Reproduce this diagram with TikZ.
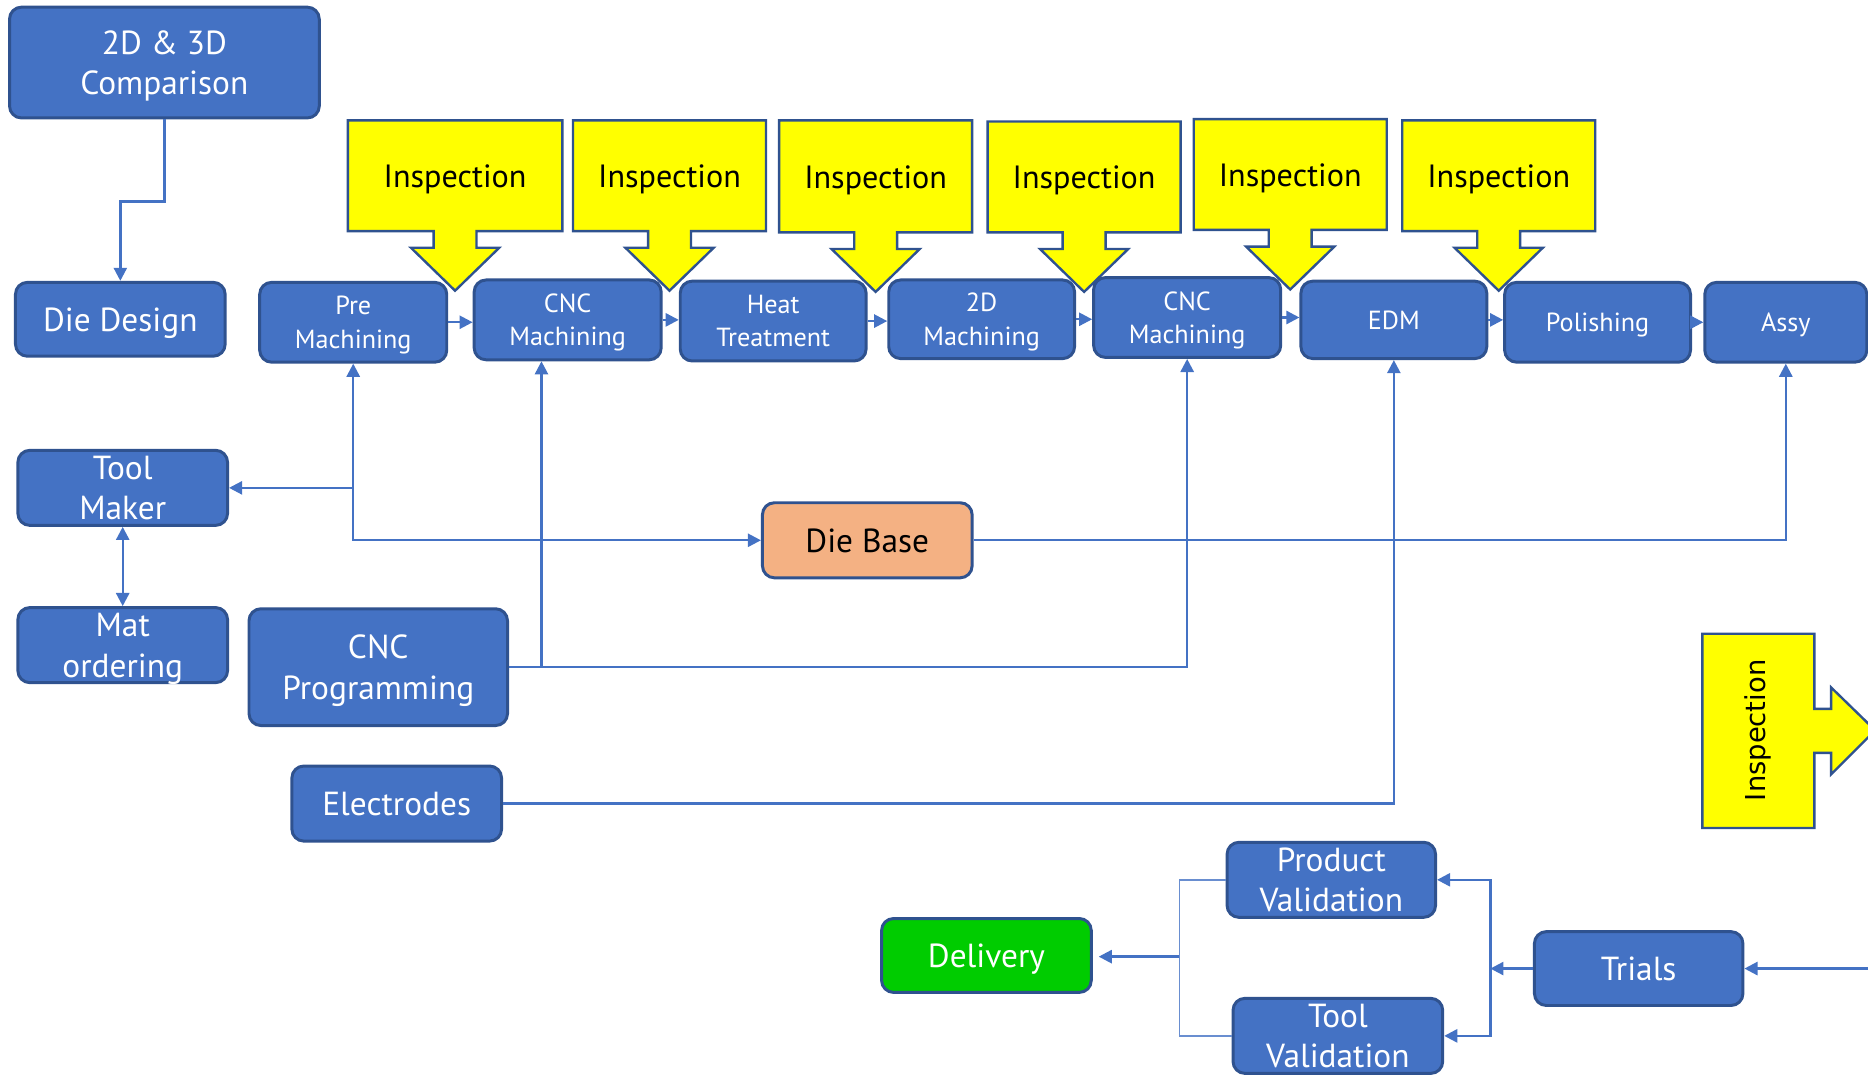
\documentclass[tikz,border=0pt]{standalone}
\usepackage{fontspec}
\setmainfont{PT Sans}
\newfontfamily\sidefont{DejaVu Sans}
\usetikzlibrary{arrows.meta}

\definecolor{boxblue}{HTML}{4472C4}
\definecolor{boxline}{HTML}{2F528F}
\definecolor{inspyellow}{HTML}{FFFF00}
\definecolor{baseorange}{HTML}{F4B183}
\definecolor{okgreen}{HTML}{00CC00}

\tikzset{
  proc/.style={draw=boxline, fill=boxblue, line width=2.5pt, rounded corners=10pt,
    text=white, align=center, inner sep=0pt, text depth=0pt},
  bigtxt/.style={font=\fontsize{28}{34}\selectfont},
  smalltxt/.style={font=\fontsize{22}{28}\selectfont},
  flow/.style={draw=boxblue, line width=2pt, -{Triangle[length=11pt,width=11pt]}},
  thinflow/.style={draw=boxblue!80, line width=1.2pt},
  insp/.style={draw=boxline, fill=inspyellow, line width=2pt},
  insptxt/.style={font=\fontsize{27}{32}\selectfont, text depth=0pt},
}

\begin{document}
\begin{tikzpicture}[x=1pt, y=-1pt]
    \useasboundingbox (0,0) rectangle (1568,903);
    \clip (0,0) rectangle (1568,903);

    % design
    \node[proc, bigtxt, minimum width=260pt, minimum height=93pt] (comp) at (138,52.5) {2D \& 3D\\Comparison};
    \node[proc, bigtxt, minimum width=176pt, minimum height=62pt] (dd) at (101,268) {Die Design};

    % process line
    \node[proc, smalltxt, minimum width=157pt, minimum height=67pt] (pre) at (296.5,270.5) {Pre\\Machining};
    \node[proc, smalltxt, minimum width=157pt, minimum height=67pt] (cnc1) at (476.5,268.5) {CNC\\Machining};
    \node[proc, smalltxt, minimum width=156pt, minimum height=67pt] (heat) at (649,269.5) {Heat\\Treatment};
    \node[proc, smalltxt, minimum width=156pt, minimum height=66pt] (twod) at (824,268) {2D\\Machining};
    \node[proc, smalltxt, minimum width=157pt, minimum height=67pt] (cnc2) at (996.5,266.5) {CNC\\Machining};
    \node[proc, smalltxt, minimum width=156pt, minimum height=65pt] (edm) at (1170,268.5) {EDM};
    \node[proc, smalltxt, minimum width=156pt, minimum height=67pt] (pol) at (1341,270.5) {Polishing};
    \node[proc, smalltxt, minimum width=136pt, minimum height=67pt] (assy) at (1499,270.5) {Assy};

    % supply
    \node[proc, bigtxt, minimum width=176pt, minimum height=63pt] (tm) at (103,409.5) {Tool\\Maker};
    \node[proc, bigtxt, minimum width=176pt, minimum height=63pt] (mat) at (103,541.5) {Mat\\ordering};
    \node[proc, bigtxt, minimum width=176pt, minimum height=63pt, fill=baseorange, text=black] (db) at (728,453.5) {Die Base};
    \node[proc, bigtxt, minimum width=217pt, minimum height=98pt] (cncp) at (317.5,560) {CNC\\Programming};
    \node[proc, bigtxt, minimum width=176pt, minimum height=63pt] (el) at (333,674.5) {Electrodes};

    % try-out
    \node[proc, bigtxt, minimum width=175pt, minimum height=63pt] (pv) at (1117.5,738.5) {Product\\Validation};
    \node[proc, bigtxt, minimum width=176pt, minimum height=63pt] (tv) at (1123,869.5) {Tool\\Validation};
    \node[proc, bigtxt, minimum width=175pt, minimum height=62pt] (trials) at (1375.5,813) {Trials};
    \node[proc, bigtxt, minimum width=176pt, minimum height=62pt, fill=okgreen] (del) at (828,802) {Delivery};

    % inspections
    \draw[insp] (292,101) -- (472,101) -- (472,194) -- (400,194) -- (400,208) -- (419,208) -- (382,244) -- (345,208) -- (364,208) -- (364,194) -- (292,194) -- cycle;
    \draw[insp] (481,101) -- (643,101) -- (643,194) -- (580,194) -- (580,208) -- (599,208) -- (562,244) -- (525,208) -- (544,208) -- (544,194) -- (481,194) -- cycle;
    \draw[insp] (654,101) -- (816,101) -- (816,195) -- (753,195) -- (753,209) -- (772,209) -- (735,245) -- (698,209) -- (717,209) -- (717,195) -- (654,195) -- cycle;
    \draw[insp] (829,102) -- (991,102) -- (991,195) -- (928,195) -- (928,209) -- (947,209) -- (910,245) -- (873,209) -- (892,209) -- (892,195) -- (829,195) -- cycle;
    \draw[insp] (1002,100) -- (1164,100) -- (1164,193) -- (1101,193) -- (1101,207) -- (1120,207) -- (1083,243) -- (1046,207) -- (1065,207) -- (1065,193) -- (1002,193) -- cycle;
    \draw[insp] (1177,101) -- (1339,101) -- (1339,194) -- (1276,194) -- (1276,208) -- (1295,208) -- (1258,244) -- (1221,208) -- (1240,208) -- (1240,194) -- (1177,194) -- cycle;
    \node[insptxt] (i1) at (382,148) {Inspection};
    \node[insptxt] (i2) at (562,148) {Inspection};
    \node[insptxt] (i3) at (735,149) {Inspection};
    \node[insptxt] (i4) at (910,149) {Inspection};
    \node[insptxt] (i5) at (1083,147) {Inspection};
    \node[insptxt] (i6) at (1258,148) {Inspection};

    \draw[insp] (1429,532) -- (1523,532) -- (1523,595) -- (1537,595) -- (1537,577) -- (1574,613) -- (1537,650) -- (1537,632) -- (1523,632) -- (1523,695) -- (1429,695) -- cycle;
    \node[rotate=90, font=\sidefont\fontsize{23}{28}\selectfont] (i7) at (1476,613) {Inspection};

    % connectors
    \draw[flow] (comp.south) -- ++(0,69) -| (dd.north);
    \draw[flow] (pre.east) -- (pre.east -| cnc1.west);
    \draw[flow] (cnc1.east) -- (cnc1.east -| heat.west);
    \draw[flow] (heat.east) -- (heat.east -| twod.west);
    \draw[flow] (twod.east) -- (twod.east -| cnc2.west);
    \draw[flow] (cnc2.east) -- (cnc2.east -| edm.west);
    \draw[flow] (edm.east) -- (edm.east -| pol.west);
    \draw[flow] (pol.east) -- (pol.east -| assy.west);

    \draw[flow, {Triangle[length=11pt,width=11pt]}-{Triangle[length=11pt,width=11pt]}] (db.west) -| (pre.south);
    \draw[flow] (pre.south |- tm.east) -- (tm.east);
    \draw[flow] (db.east) -| (assy.south);
    \draw[flow, {Triangle[length=11pt,width=11pt]}-{Triangle[length=11pt,width=11pt]}] (tm.south) -- (mat.north);

    \draw[flow] (cncp.east) -| (cnc2.south);
    \draw[flow] ([xshift=-22pt]cnc1.south |- cncp.east) -- ([xshift=-22pt]cnc1.south);
    \draw[flow] (el.east) -| (edm.south);

    \coordinate (inspout) at (1580,812);
    \coordinate (split) at (1251,812);
    \coordinate (merge) at (990,803);
    \draw[flow] (trials.east -| inspout) -- (trials.east);
    \draw[flow] (trials.west) -- (trials.west -| split);
    \draw[flow] (split) |- (pv.east);
    \draw[flow] (split) |- (tv.east);
    \draw[thinflow] (pv.west) -| (merge);
    \draw[thinflow] (tv.west) -| (merge);
    \draw[flow, shorten >=5pt] (merge) -- (merge -| del.east);
\end{tikzpicture}
\end{document}
